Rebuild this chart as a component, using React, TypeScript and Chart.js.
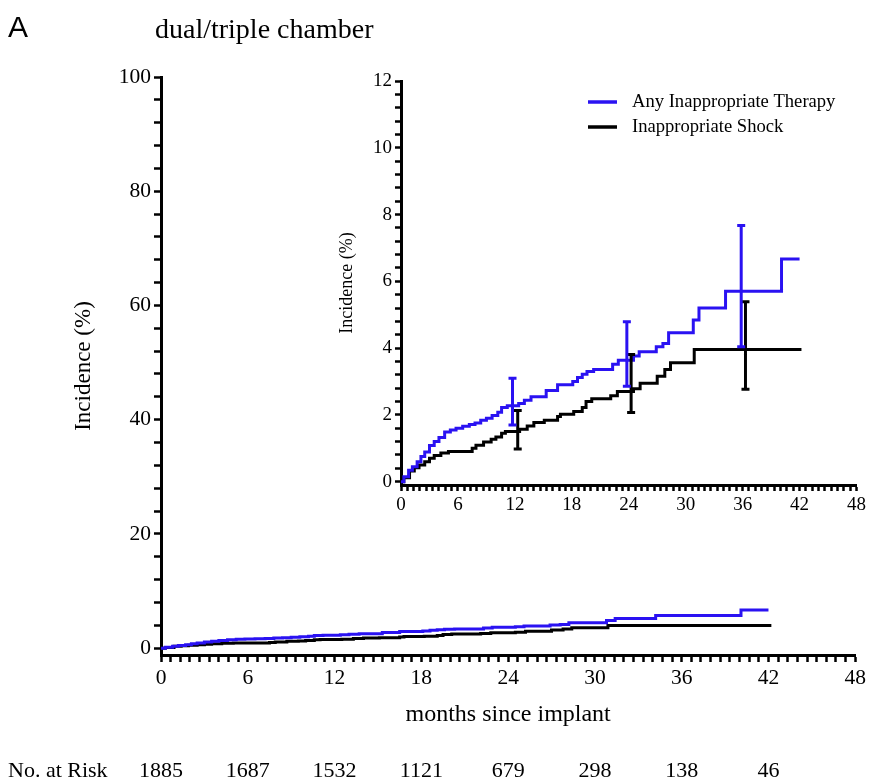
import React, { useEffect, useRef } from 'react';
import { Chart, registerables } from 'chart.js';

Chart.register(...registerables);

const SERIF = '"Liberation Serif", "Times New Roman", serif';
const SANS = '"Liberation Sans", Arial, sans-serif';
const BLUE = '#2a12f2';
const BLACK = '#000000';

// Any inappropriate therapy (cumulative incidence, %)
const anyMonths = [0, 0.3, 0.8, 1.2, 1.7, 2.1, 2.5, 3.0, 3.5, 4.0, 4.6, 5.2, 5.8, 6.5, 7.2, 7.8, 8.4, 9.0, 9.6, 10.2, 10.6, 11.2, 12.4, 13.0, 13.7, 15.3, 16.5, 18.1, 18.6, 19.1, 19.6, 20.3, 22.3, 22.9, 24.5, 25.1, 26.9, 27.6, 28.2, 30.8, 31.4, 34.2, 40.1, 42.0];
const anyPct = [0, 0.15, 0.34, 0.45, 0.6, 0.75, 0.89, 1.08, 1.2, 1.32, 1.49, 1.55, 1.6, 1.66, 1.71, 1.76, 1.84, 1.9, 1.98, 2.08, 2.22, 2.27, 2.34, 2.44, 2.54, 2.73, 2.9, 3.0, 3.12, 3.22, 3.3, 3.36, 3.52, 3.64, 3.76, 3.89, 4.04, 4.14, 4.46, 4.84, 5.2, 5.7, 6.67, 6.67];

// Inappropriate shock
const shockMonths = [0, 0.3, 0.9, 1.4, 1.9, 2.5, 3.0, 3.5, 4.2, 5.0, 7.5, 7.9, 8.7, 9.5, 10.0, 10.6, 11.0, 12.5, 13.3, 14.0, 15.1, 16.5, 16.8, 18.2, 19.1, 19.5, 20.1, 22.1, 22.8, 24.5, 25.2, 27.0, 27.8, 28.4, 30.9, 42.2];
const shockPct = [0, 0.12, 0.32, 0.42, 0.5, 0.6, 0.7, 0.78, 0.86, 0.9, 1.0, 1.09, 1.19, 1.27, 1.34, 1.45, 1.5, 1.57, 1.67, 1.77, 1.84, 1.95, 2.02, 2.1, 2.22, 2.4, 2.48, 2.57, 2.7, 2.78, 2.95, 3.16, 3.36, 3.56, 3.96, 3.96];

// 95% CI bars (inset)
const ciAnyMonths = [11.75, 23.8, 35.85];
const ciAnyLow = [1.7, 2.86, 4.04];
const ciAnyHigh = [3.1, 4.79, 7.67];
const ciShockMonths = [12.3, 24.25, 36.3];
const ciShockLow = [0.98, 2.07, 2.77];
const ciShockHigh = [2.13, 3.81, 5.39];

// Number at risk
const riskMonths = [0, 6, 12, 18, 24, 30, 36, 42];
const riskCounts = [1885, 1687, 1532, 1121, 679, 298, 138, 46];

// Tick labels
const xMajorTicks = [0, 6, 12, 18, 24, 30, 36, 42, 48];
const mainYMajorTicks = [0, 20, 40, 60, 80, 100];
const insetYMajorTicks = [0, 2, 4, 6, 8, 10, 12];

const seriesLabels = ['Any Inappropriate Therapy', 'Inappropriate Shock'];
const seriesColors = [BLUE, BLACK];

function withMinor(majors: number[], sub: number): number[] {
  const out: number[] = [];
  for (let i = 0; i < majors.length - 1; i++) {
    const step = (majors[i + 1] - majors[i]) / sub;
    for (let k = 0; k < sub; k++) out.push(majors[i] + k * step);
  }
  out.push(majors[majors.length - 1]);
  return out;
}

function isMajor(v: number, majors: number[]) {
  return majors.some((m) => Math.abs(m - v) < 1e-6);
}

function pts(xs: number[], ys: number[]) {
  return xs.map((x, i) => ({ x, y: ys[i] }));
}

function errData(xs: number[], lo: number[], hi: number[]) {
  const out: { x: number; y: number | null }[] = [];
  xs.forEach((x, i) => {
    out.push({ x, y: lo[i] });
    out.push({ x, y: hi[i] });
    out.push({ x, y: null });
  });
  return out;
}

function axisCommon(tickLen: number, fontSize: number, majors: number[], sub: number) {
  const all = withMinor(majors, sub);
  return {
    type: 'linear' as const,
    bounds: 'data' as const,
    afterBuildTicks: (s: any) => {
      s.ticks = all.map((v) => ({ value: v }));
    },
    border: { display: true, color: BLACK, width: 3 },
    grid: {
      display: true,
      drawOnChartArea: false,
      drawTicks: true,
      tickLength: tickLen,
      tickWidth: 2.5,
      tickColor: BLACK,
      color: BLACK,
    },
    ticks: {
      autoSkip: false,
      maxRotation: 0,
      minRotation: 0,
      padding: 3,
      color: BLACK,
      font: { family: SERIF, size: fontSize },
      callback: (v: any) => (isMajor(Number(v), majors) ? String(Math.round(Number(v))) : ''),
    },
  };
}

const mainTextPlugin = {
  id: 'mainText',
  afterDraw(chart: any) {
    const { ctx } = chart;
    const x = chart.scales.x;
    ctx.save();
    ctx.fillStyle = BLACK;
    ctx.textAlign = 'left';
    ctx.textBaseline = 'alphabetic';
    ctx.font = `30px ${SANS}`;
    ctx.fillText('A', 8, 37);
    ctx.font = `28px ${SERIF}`;
    ctx.fillText('dual/triple chamber', 155, 38);
    ctx.font = `22px ${SERIF}`;
    ctx.textBaseline = 'middle';
    ctx.fillText('No. at Risk', 8, 771);
    ctx.textAlign = 'center';
    riskMonths.forEach((m, i) => {
      ctx.fillText(String(riskCounts[i]), x.getPixelForValue(m), 771);
    });
    ctx.restore();
  },
};

const insetLegendPlugin = {
  id: 'insetLegend',
  afterDraw(chart: any) {
    const { ctx } = chart;
    ctx.save();
    seriesLabels.forEach((label, i) => {
      const y = 52 + i * 25;
      ctx.strokeStyle = seriesColors[i];
      ctx.lineWidth = 3.5;
      ctx.beginPath();
      ctx.moveTo(288, y);
      ctx.lineTo(317, y);
      ctx.stroke();
      ctx.fillStyle = BLACK;
      ctx.font = `18.6px ${SERIF}`;
      ctx.textAlign = 'left';
      ctx.textBaseline = 'middle';
      ctx.fillText(label, 332, y);
    });
    ctx.restore();
  },
};

function lineDs(label: string, xs: number[], ys: number[], color: string, width: number) {
  return {
    label,
    data: pts(xs, ys),
    borderColor: color,
    backgroundColor: color,
    borderWidth: width,
    stepped: 'before' as const,
    pointRadius: 0,
    pointHoverRadius: 0,
    fill: false,
    borderJoinStyle: 'miter' as const,
  };
}

function errDs(label: string, xs: number[], lo: number[], hi: number[], color: string) {
  return {
    label,
    data: errData(xs, lo, hi),
    borderColor: color,
    backgroundColor: color,
    borderWidth: 3,
    showLine: true,
    spanGaps: false,
    stepped: false,
    pointStyle: 'line' as const,
    pointRadius: 4,
    pointBorderWidth: 3,
    pointBorderColor: color,
    pointHoverRadius: 0,
    fill: false,
  };
}

export default function App() {
  const mainRef = useRef<HTMLCanvasElement>(null);
  const insetRef = useRef<HTMLCanvasElement>(null);

  useEffect(() => {
    const mainX: any = axisCommon(7, 21.5, xMajorTicks, 9);
    mainX.min = 0;
    mainX.max = 48;
    mainX.afterFit = (s: any) => {
      s.height = 127;
    };
    mainX.title = {
      display: true,
      text: 'months since implant',
      color: BLACK,
      font: { family: SERIF, size: 24 },
      padding: { top: 0, bottom: 53 },
    };
    const mainY: any = axisCommon(7, 21.5, mainYMajorTicks, 5);
    mainY.min = -1.2;
    mainY.max = 100;
    mainY.afterFit = (s: any) => {
      s.width = 161;
    };
    mainY.title = {
      display: true,
      text: 'Incidence (%)',
      color: BLACK,
      font: { family: SERIF, size: 23 },
      padding: { top: 70, bottom: 0 },
    };

    const main = new Chart(mainRef.current!, {
      type: 'line',
      data: {
        datasets: [
          lineDs(seriesLabels[0], anyMonths, anyPct, BLUE, 3),
          lineDs(seriesLabels[1], shockMonths, shockPct, BLACK, 3),
        ] as any,
      },
      options: {
        responsive: false,
        maintainAspectRatio: false,
        animation: false,
        layout: { padding: { left: 0, right: 12, top: 77, bottom: 0 } },
        plugins: { legend: { display: false }, tooltip: { enabled: false }, title: { display: false } },
        scales: { x: mainX, y: mainY },
      },
      plugins: [mainTextPlugin],
    });

    const insetX: any = axisCommon(6, 19, xMajorTicks, 9);
    insetX.min = 0;
    insetX.max = 48;
    insetX.afterFit = (s: any) => {
      s.height = 45;
    };
    const insetY: any = axisCommon(6, 19, insetYMajorTicks, 5);
    insetY.min = -0.1;
    insetY.max = 12;
    insetY.afterFit = (s: any) => {
      s.width = 101;
    };
    insetY.title = {
      display: true,
      text: 'Incidence (%)',
      color: BLACK,
      font: { family: SERIF, size: 18 },
      padding: { top: 36, bottom: 0 },
    };

    const inset = new Chart(insetRef.current!, {
      type: 'line',
      data: {
        datasets: [
          errDs('CI any', ciAnyMonths, ciAnyLow, ciAnyHigh, BLUE),
          errDs('CI shock', ciShockMonths, ciShockLow, ciShockHigh, BLACK),
          lineDs(seriesLabels[0], anyMonths, anyPct, BLUE, 3),
          lineDs(seriesLabels[1], shockMonths, shockPct, BLACK, 3),
        ] as any,
      },
      options: {
        responsive: false,
        maintainAspectRatio: false,
        animation: false,
        layout: { padding: { left: 0, right: 10, top: 31, bottom: 0 } },
        plugins: { legend: { display: false }, tooltip: { enabled: false }, title: { display: false } },
        scales: { x: insetX, y: insetY },
      },
      plugins: [insetLegendPlugin],
    });

    return () => {
      main.destroy();
      inset.destroy();
    };
  }, []);

  return (
    <div style={{ position: 'fixed', left: 0, top: 0, width: 869, height: 782, background: '#fff' }}>
      <canvas
        ref={mainRef}
        width={869}
        height={782}
        style={{ position: 'absolute', left: 0, top: 0, width: 869, height: 782 }}
      />
      <canvas
        ref={insetRef}
        width={569}
        height={480}
        style={{ position: 'absolute', left: 300, top: 50, width: 569, height: 480 }}
      />
    </div>
  );
}
